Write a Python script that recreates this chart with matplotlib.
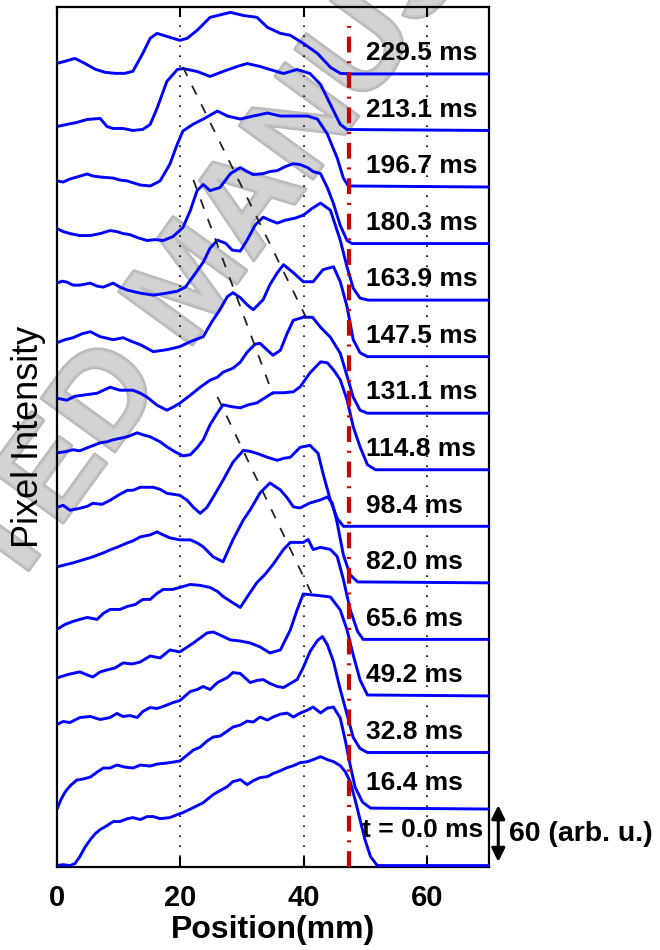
import matplotlib
matplotlib.use("Agg")
import matplotlib.pyplot as plt
from matplotlib import patheffects as pe

plt.rcParams['font.family'] = ['Liberation Sans', 'DejaVu Sans']

# ---------------- data ----------------
times_ms = [0.0, 16.4, 32.8, 49.2, 65.6, 82.0, 98.4, 114.8, 131.1, 147.5,
            163.9, 180.3, 196.7, 213.1, 229.5]
offset_step = 60          # vertical offset between traces (arb. u.)
scale_bar = 60            # size of the scale arrow (arb. u.)
front_pos = 47.3          # red dash-dot reference position (mm)
grid_pos = [20, 40, 60]
x_ticks = [0, 20, 40, 60]

pos_00 = [0, 1.0, 2.1, 2.9, 3.7, 4.5, 5.4, 6.2, 7.0, 8.1, 9.1, 10.2, 11.4, 12.3, 13.5, 14.6, 15.6, 16.7, 18.3, 19.5,
          20.4, 22.1, 23.7, 25.3, 26.4, 27.6, 28.5, 29.7, 30.8, 31.8, 32.9, 34.1, 35.0, 36.2, 37.3, 38.3, 39.4, 40.6, 41.5, 42.7,
          43.8, 44.8, 45.9, 46.7, 47.5, 48.3, 49.1, 49.9, 50.8, 51.9, 70]
int_00 = [0, 1.0, 0, 2.1, 9.5, 19.1, 27.6, 33.9, 38.2, 42.4, 46.7, 46.7, 49.8, 50.9, 48.8, 52.0, 52.0, 49.8, 50.9, 54.1,
          56.2, 61.5, 66.8, 75.3, 79.5, 83.8, 89.1, 91.2, 85.9, 90.1, 93.3, 94.4, 97.6, 100.7, 103.9, 106.0, 109.2, 110.3, 112.4, 115.6,
          112.4, 110.3, 106.0, 99.7, 89.1, 70.0, 48.8, 27.6, 9.5, 0, 0]

pos_01 = [0, 0.6, 1.3, 2.1, 3.2, 4.2, 5.4, 6.5, 7.5, 8.6, 9.7, 11.0, 12.3, 13.5, 15.1, 16.2, 17.8, 19.9, 21.1, 22.1,
          23.2, 24.3, 25.3, 26.4, 27.6, 28.5, 29.7, 30.8, 31.8, 32.9, 34.1, 35.0, 36.2, 37.3, 38.3, 39.4, 40.6, 41.5, 42.7, 43.8,
          44.8, 45.9, 46.7, 47.5, 48.3, 49.5, 50.8, 70]
int_01 = [0, 9.5, 18.0, 24.4, 30.8, 31.8, 33.9, 39.2, 43.5, 43.5, 46.7, 44.5, 43.5, 46.7, 45.6, 47.7, 48.8, 50.9, 57.3, 62.6,
          65.7, 72.1, 76.4, 77.4, 82.7, 87.0, 89.1, 93.3, 92.3, 97.6, 94.4, 97.6, 100.7, 101.8, 97.6, 101.8, 105.0, 108.2, 102.0, 107.1,
          108.2, 96.5, 73.2, 46.7, 23.3, 7.4, 1.0, 0]

pos_02 = [0, 1.0, 2.1, 3.7, 5.4, 7.0, 8.6, 9.7, 10.7, 11.8, 13.0, 13.9, 15.1, 16.2, 17.2, 18.8, 19.9, 21.6, 22.7, 23.7,
          24.8, 26.0, 27.6, 28.5, 29.7, 31.3, 32.4, 33.4, 34.5, 35.7, 36.7, 37.8, 38.9, 39.9, 41.0, 42.2, 43.0, 43.8, 44.8, 45.9,
          47.0, 48.0, 49.1, 50.3, 70]
int_02 = [29.7, 32.9, 31.8, 37.1, 38.2, 35.0, 37.1, 41.4, 38.2, 39.2, 37.1, 43.5, 47.7, 46.7, 48.8, 53.0, 55.1, 64.7, 66.8, 70.0,
          66.8, 74.2, 79.5, 84.8, 83.8, 74.2, 76.4, 77.4, 73.2, 70.0, 68.9, 73.2, 77.4, 90.1, 107.1, 118.8, 123.0, 114.5, 96.5, 66.8,
          40.3, 15.9, 4.2, 0, 0]

pos_03 = [0, 1.0, 2.1, 3.7, 4.9, 5.8, 7.0, 8.1, 9.4, 10.7, 12.2, 13.5, 15.1, 16.7, 18.3, 19.9, 22.1, 24.3, 25.3, 26.4,
          28.1, 29.7, 31.3, 32.9, 34.5, 36.2, 37.8, 38.9, 39.9, 41.5, 43.1, 44.3, 45.9, 47.0, 48.0, 49.1, 50.3, 70]
int_03 = [19.1, 21.2, 23.3, 25.5, 22.3, 20.1, 25.5, 27.6, 29.7, 35.0, 33.9, 36.1, 42.4, 40.3, 48.8, 46.7, 56.2, 66.8, 67.9, 64.7,
          59.4, 58.3, 56.2, 52.0, 45.6, 48.8, 70.0, 91.2, 108.2, 107.1, 106.0, 105.0, 91.2, 70.0, 43.5, 17.0, 1.0, 0]

pos_04 = [0, 1.3, 2.6, 3.7, 4.9, 6.5, 7.5, 8.6, 10.2, 11.4, 12.7, 13.9, 15.1, 16.2, 17.2, 18.7, 19.9, 21.6, 23.2, 24.8,
          26.0, 26.9, 28.4, 29.7, 31.3, 32.4, 33.7, 35.0, 36.7, 37.8, 38.9, 39.9, 40.7, 41.5, 42.7, 44.3, 45.4, 46.4, 47.5, 48.7,
          49.6, 70]
int_04 = [10.6, 15.9, 19.1, 21.2, 23.3, 21.2, 27.6, 31.8, 31.8, 35.0, 37.1, 42.4, 42.4, 48.8, 53.0, 53.0, 55.1, 58.3, 57.3, 55.1,
          50.9, 45.6, 39.2, 33.9, 49.8, 60.4, 68.9, 79.5, 95.4, 102.9, 102.9, 102.9, 106.0, 95.4, 97.6, 95.4, 88.0, 63.6, 31.8, 8.5,
          0, 0]

pos_05 = [0, 1.3, 2.6, 4.2, 5.8, 7.5, 8.6, 9.9, 11.4, 12.3, 13.5, 15.1, 16.2, 17.2, 18.3, 19.9, 21.6, 22.7, 23.7, 25.3,
          26.9, 28.5, 30.2, 31.3, 32.9, 34.5, 36.2, 37.3, 38.3, 39.4, 41.0, 42.7, 43.8, 44.6, 45.4, 46.4, 47.5, 48.7, 70]
int_05 = [17.0, 19.1, 21.2, 24.4, 27.6, 31.8, 35.0, 38.2, 42.4, 44.5, 48.8, 50.9, 54.1, 50.9, 47.7, 45.6, 45.6, 42.4, 38.2, 27.6,
          22.3, 45.6, 66.8, 77.4, 95.4, 106.0, 98.6, 90.1, 80.6, 79.5, 84.8, 88.0, 91.2, 84.8, 63.6, 29.7, 8.5, 1.0, 0]

pos_06 = [0, 1.0, 2.1, 3.7, 4.9, 5.8, 7.3, 8.6, 9.9, 11.4, 12.3, 13.5, 15.6, 16.7, 17.8, 19.9, 21.1, 22.1, 23.2, 24.3,
          25.3, 26.9, 28.5, 30.2, 31.3, 32.4, 34.1, 35.7, 36.7, 37.8, 39.4, 41.0, 42.3, 43.1, 44.3, 45.4, 46.4, 70]
int_06 = [20.1, 22.3, 17.0, 19.1, 21.2, 24.4, 23.3, 27.6, 32.9, 38.2, 38.2, 41.4, 41.4, 39.2, 35.0, 32.9, 27.6, 20.1, 13.8, 20.1,
          30.8, 48.8, 67.9, 80.6, 79.5, 77.4, 73.2, 70.0, 72.1, 73.2, 83.8, 85.9, 77.4, 56.2, 27.6, 8.5, 0, 0]

pos_07 = [0, 1.3, 2.6, 3.7, 4.9, 7.0, 8.1, 9.1, 11.4, 13.0, 13.9, 15.1, 16.7, 17.8, 19.1, 20.4, 21.6, 22.7, 23.7, 24.8,
          26.0, 26.9, 28.4, 29.7, 31.0, 32.4, 33.7, 35.0, 36.7, 38.3, 39.4, 41.0, 42.7, 43.8, 44.8, 45.9, 47.0, 48.0, 49.1, 50.3,
          51.6, 70]
int_07 = [18.0, 19.1, 21.2, 20.1, 23.3, 28.6, 29.7, 31.8, 35.0, 39.2, 37.1, 35.0, 29.7, 24.4, 19.1, 14.8, 15.9, 23.3, 31.8, 47.7,
          60.4, 68.9, 66.8, 65.7, 68.9, 71.0, 76.4, 81.7, 81.7, 82.7, 88.0, 102.9, 114.5, 113.5, 106.0, 95.4, 74.2, 45.6, 24.4, 5.3,
          0, 0]

pos_08 = [0, 1.6, 2.9, 4.2, 6.5, 8.6, 10.2, 12.3, 13.5, 14.6, 16.2, 17.8, 18.8, 19.9, 21.6, 23.2, 24.8, 26.0, 26.9, 28.5,
          29.7, 30.8, 32.1, 32.9, 34.1, 35.0, 36.2, 37.3, 38.3, 39.9, 41.4, 42.7, 44.3, 45.9, 47.2, 48.0, 49.1, 50.3, 70]
int_08 = [15.9, 13.8, 18.0, 19.1, 21.2, 27.6, 24.4, 24.4, 21.2, 17.0, 8.5, 3.2, 6.4, 10.6, 19.1, 27.6, 35.0, 38.2, 43.5, 47.7,
          54.1, 64.7, 73.2, 74.2, 66.8, 61.5, 66.8, 84.8, 98.6, 101.8, 101.8, 91.2, 80.6, 63.6, 35.0, 17.0, 3.2, 0, 0]

pos_09 = [0, 1.3, 2.6, 4.1, 5.4, 7.0, 9.1, 10.7, 12.2, 13.5, 15.6, 17.8, 19.9, 21.6, 23.7, 25.1, 26.4, 27.6, 28.5, 29.7,
          30.8, 31.8, 33.4, 34.5, 35.7, 36.7, 38.3, 39.9, 41.5, 43.1, 44.8, 45.9, 47.0, 48.0, 49.1, 50.3, 70]
int_09 = [14.8, 18.0, 20.1, 24.4, 26.5, 21.2, 18.0, 20.1, 15.9, 12.7, 5.3, 7.4, 10.6, 15.9, 21.2, 37.1, 49.8, 63.6, 67.9, 62.6,
          55.1, 49.8, 60.4, 76.4, 89.1, 97.6, 89.1, 79.5, 79.5, 92.3, 95.4, 79.5, 53.0, 18.0, 4.2, 0, 0]

pos_10 = [0, 0.8, 1.6, 2.6, 3.7, 5.4, 6.5, 7.5, 9.1, 10.2, 11.4, 13.5, 15.6, 17.8, 19.5, 20.8, 22.1, 23.7, 24.8, 26.0,
          27.3, 28.4, 29.7, 30.8, 32.1, 33.4, 34.5, 35.7, 37.0, 38.6, 39.9, 41.4, 42.7, 44.3, 45.9, 47.0, 48.0, 49.1, 50.4, 70]
int_10 = [18.0, 20.1, 19.1, 15.9, 15.9, 18.0, 14.8, 13.8, 18.0, 13.8, 10.6, 7.4, 5.3, 7.4, 9.5, 13.8, 25.5, 40.3, 55.1, 63.6,
          60.4, 53.0, 52.0, 63.6, 79.5, 88.0, 84.8, 81.7, 84.8, 87.0, 90.1, 97.6, 102.9, 95.4, 63.6, 35.0, 12.7, 2.1, 0, 0]

pos_11 = [0, 1.0, 2.1, 3.7, 5.4, 7.0, 8.6, 9.7, 10.7, 11.8, 13.0, 14.6, 15.9, 17.2, 18.8, 20.4, 21.6, 22.7, 23.7, 24.8,
          26.4, 28.1, 29.7, 30.8, 31.8, 33.4, 34.5, 35.7, 37.0, 38.3, 39.4, 40.6, 41.5, 42.7, 43.8, 44.8, 45.9, 47.0, 47.8, 70]
int_11 = [15.9, 12.7, 10.6, 8.5, 8.5, 10.6, 13.8, 12.7, 10.6, 9.5, 6.4, 3.2, 4.2, 3.2, 7.4, 17.0, 35.0, 56.2, 62.6, 56.2,
          59.4, 74.2, 80.6, 76.4, 73.2, 74.2, 76.4, 77.4, 81.7, 84.8, 83.8, 80.6, 76.4, 74.2, 59.4, 42.4, 19.1, 3.2, 0, 0]

pos_12 = [0, 1.0, 2.1, 3.2, 4.9, 5.8, 7.0, 9.1, 10.2, 11.4, 13.5, 15.1, 16.7, 18.3, 19.5, 20.4, 22.1, 23.7, 26.0, 27.6,
          29.7, 31.8, 34.1, 36.2, 38.3, 40.6, 42.2, 43.8, 45.4, 46.4, 47.2, 70]
int_12 = [6.4, 5.3, 8.5, 10.6, 13.8, 11.7, 10.6, 9.5, 7.4, 6.4, 2.1, 1.1, 6.4, 24.4, 45.6, 59.4, 66.8, 72.1, 80.6, 75.3,
          72.1, 75.3, 78.5, 75.3, 75.3, 75.3, 72.1, 56.2, 30.8, 9.5, 1.1, 0]

pos_13 = [0, 1.6, 3.2, 4.9, 7.0, 8.1, 9.1, 10.7, 12.3, 13.9, 15.1, 16.2, 17.8, 19.5, 20.4, 22.7, 24.8, 26.9, 29.2, 30.8,
          32.9, 34.5, 36.7, 38.9, 41.0, 42.7, 44.3, 45.9, 47.0, 70]
int_13 = [4.2, 6.4, 8.5, 11.7, 12.7, 4.2, 2.1, 2.1, 0, 1.1, 6.4, 23.3, 52.0, 64.7, 65.7, 62.6, 57.3, 62.6, 67.9, 71.0,
          67.9, 64.7, 60.4, 64.7, 60.4, 48.8, 27.6, 6.4, 1.0, 0]

pos_14 = [0, 1.3, 2.9, 4.5, 6.2, 7.8, 9.4, 11.0, 12.3, 13.9, 15.1, 16.2, 18.3, 19.9, 21.1, 22.7, 24.8, 28.1, 30.2, 32.4,
          34.1, 36.2, 37.8, 39.9, 42.2, 44.3, 45.9, 47.5, 70]
int_14 = [11.2, 13.4, 16.5, 11.2, 4.9, 1.7, 0.6, 0.6, 2.8, 21.8, 37.8, 43.0, 38.8, 35.6, 37.8, 46.2, 60.0, 65.3, 62.0, 60.0,
          49.4, 43.0, 41.0, 32.4, 21.8, 7.0, 0.6, 0, 0]

# wave-front guide lines (position mm, offset intensity)
guide1_x = [20.4, 40.4]
guide1_y = [847.3, 581.1]
guide2_x = [22.1, 35.0]
guide2_y = [727.5, 499.5]
guide3_x = [26.0, 41.5]
guide3_y = [497.3, 285.3]

positions = [pos_00, pos_01, pos_02, pos_03, pos_04, pos_05, pos_06, pos_07,
             pos_08, pos_09, pos_10, pos_11, pos_12, pos_13, pos_14]
intensities = [int_00, int_01, int_02, int_03, int_04, int_05, int_06, int_07,
               int_08, int_09, int_10, int_11, int_12, int_13, int_14]

# ---------------- figure ----------------
W, H = 660, 950
fig = plt.figure(figsize=(W / 100, H / 100), dpi=100)
fig.patch.set_facecolor('white')
ax = fig.add_axes([57 / W, 83 / H, 432 / W, 860 / H])
ax.patch.set_alpha(0)   # let the background watermark show through
ax.set_xlim(0, 70)
ax.set_ylim(-1.5, 911)

for gx in grid_pos:
    ax.axvline(gx, color='black', lw=1.2, linestyle=(0, (1, 5)), zorder=1)

for i, (px, iy) in enumerate(zip(positions, intensities)):
    off = i * offset_step
    ax.plot(px, [v + off for v in iy], color='#0000ff', lw=2.1, zorder=3,
            solid_joinstyle='round')

for gx_, gy_ in [(guide1_x, guide1_y), (guide2_x, guide2_y), (guide3_x, guide3_y)]:
    ax.plot(gx_, gy_, color='#222222', lw=1.3, linestyle=(0, (5.5, 6)), zorder=4)

ax.axvline(front_pos, ymin=0, ymax=0.978, color='#cc0000', lw=3.0,
           linestyle=(0, (3.8, 2.1, 0.5, 2.1)), zorder=5)

# trace labels
for i, t in enumerate(times_ms):
    off = i * offset_step
    if i == 0:
        txt, lx, ly = 't = %.1f ms' % t, 49.5, off + 38
    elif i == 1:
        txt, lx, ly = '%.1f ms' % t, 50.0, off + 28
    else:
        txt, lx, ly = '%.1f ms' % t, 50.0, off + 22
    ax.text(lx, ly, txt, fontsize=19, fontweight='bold', ha='left', va='center',
            color='black', zorder=6)

# scale arrow
ax.annotate('', xy=(71.5, 4), xytext=(71.5, 4 + scale_bar),
            arrowprops=dict(arrowstyle='<|-|>,head_length=0.8,head_width=0.4',
                            color='black', lw=2.2, shrinkA=0, shrinkB=0),
            annotation_clip=False)
ax.text(73.3, 34, '%d (arb. u.)' % scale_bar, fontsize=20.5, fontweight='bold',
        ha='left', va='center', clip_on=False)

# axes styling
ax.set_xticks(x_ticks)
ax.set_yticks([])
ax.tick_params(axis='x', direction='in', length=7, width=1.5, top=True,
               labelsize=21, pad=12)
for lab in ax.get_xticklabels():
    lab.set_fontweight('bold')
for sp in ax.spines.values():
    sp.set_linewidth(1.6)
    sp.set_color('black')

ax.set_xlabel('Position(mm)', fontsize=23, fontweight='bold', va='center')
ax.xaxis.set_label_coords(0.5, -0.073)
ax.set_ylabel('Pixel Intensity', fontsize=26, va='center')
ax.yaxis.set_label_coords(-0.067, 0.5)

# watermark (diagonal, semi-transparent, behind the chart as in the reference)
fig.text(194 / W, 1 - 284 / H, 'ACCEPTED MANUSCRIPT', rotation=54,
         rotation_mode='anchor', ha='center', va='center', fontsize=95,
         fontweight='bold', color='#cfcfcf', alpha=0.7, zorder=-1,
         path_effects=[pe.Stroke(linewidth=2.5, foreground='#9c9c9c', alpha=0.7),
                       pe.Normal()])

fig.savefig('out.png', dpi=100, facecolor='white')
